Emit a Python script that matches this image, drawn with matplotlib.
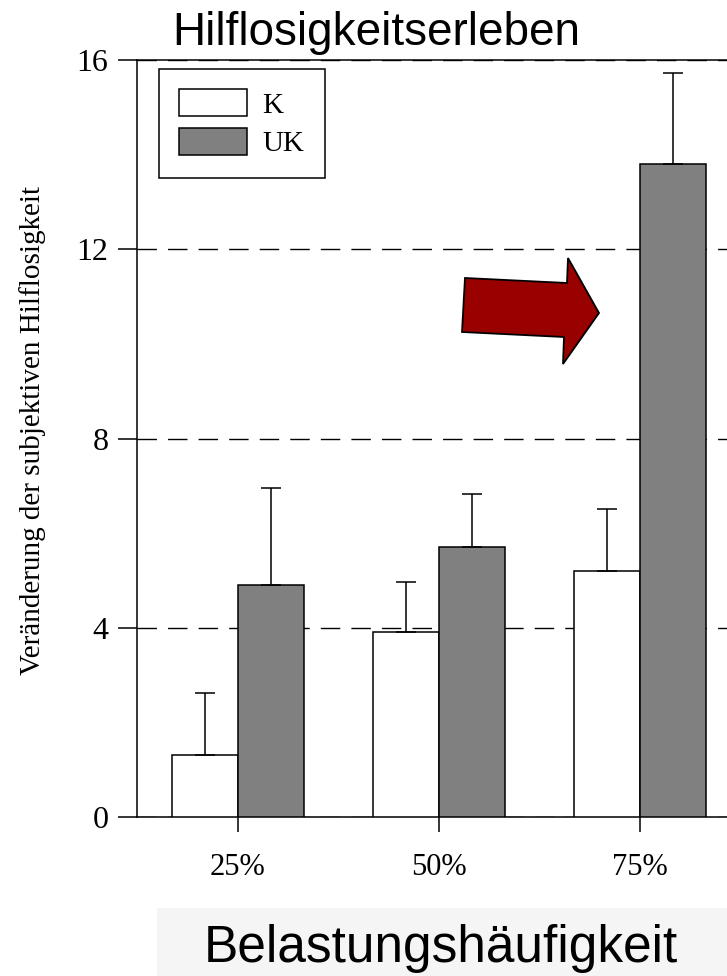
import numpy as np
import matplotlib
matplotlib.use("Agg")
import matplotlib.pyplot as plt
from matplotlib.patches import Patch, Polygon, Rectangle

# data
categories = ["25%", "50%", "75%"]
k_vals = [1.31, 3.92, 5.21]
k_err = [1.32, 1.05, 1.29]
uk_vals = [4.90, 5.70, 13.80]
uk_err = [2.06, 1.13, 1.93]
y_ticks = [0, 4, 8, 12, 16]

W, H = 727, 976
fig = plt.figure(figsize=(W / 100, H / 100), dpi=100)
ax = fig.add_axes([137 / W, 1 - 817 / H, 590 / W, 757 / H])

x = np.arange(len(categories))
bw = 0.33
serif = "Liberation Serif"

ax.bar(x - bw / 2, k_vals, bw, color="white", edgecolor="black", linewidth=1.1, zorder=3)
ax.bar(x + bw / 2, uk_vals, bw, color="#808080", edgecolor="black", linewidth=1.1, zorder=3)
zeros = np.zeros(len(categories))
ax.errorbar(x - bw / 2, k_vals, yerr=[zeros, k_err], fmt="none", ecolor="black",
            elinewidth=1.1, capsize=7.2, capthick=1.1, zorder=4)
ax.errorbar(x + bw / 2, uk_vals, yerr=[zeros, uk_err], fmt="none", ecolor="black",
            elinewidth=1.1, capsize=7.2, capthick=1.1, zorder=4)

ax.set_xlim(-0.5025, 2.433)
ax.set_ylim(0, 16)
ax.set_yticks(y_ticks)
ax.set_xticks(x)
ax.set_xticklabels(categories)
for lab in ax.get_xticklabels() + ax.get_yticklabels():
    lab.set_fontfamily(serif)
ax.tick_params(axis="y", direction="out", length=13.7, width=1.1, pad=7, labelsize=23)
ax.tick_params(axis="x", direction="out", length=11, width=1.1, pad=15, labelsize=22)

ax.set_axisbelow(True)
ax.yaxis.grid(True, color="black", linewidth=1.0, linestyle=(0, (14, 8)))

for side in ["left", "bottom", "top"]:
    ax.spines[side].set_linewidth(1.1)
ax.spines["right"].set_visible(False)

handles = [Patch(facecolor="white", edgecolor="black", linewidth=1.1),
           Patch(facecolor="#808080", edgecolor="black", linewidth=1.1)]
leg = ax.legend(handles, ["K", "UK"], loc="upper left",
                bbox_to_anchor=((159 - 137) / 590, (817 - 69) / 757),
                borderaxespad=0, fancybox=False, edgecolor="black", framealpha=1,
                prop={"family": serif, "size": 21}, handlelength=2.3, handleheight=1.05,
                labelspacing=0.3, handletextpad=0.55, borderpad=0.7)
leg.get_frame().set_linewidth(1.1)

fig.text(33 / W, 1 - 430 / H, "Veränderung der subjektiven Hilflosigkeit",
         rotation=90, ha="center", va="center", family=serif, fontsize=21)

fig.text(376 / W, 1 - 45 / H, "Hilflosigkeitserleben", ha="center", va="baseline",
         family="Liberation Sans", fontsize=33)

fig.patches.append(Rectangle((157 / W, 0), 1 - 157 / W, 68 / H, transform=fig.transFigure,
                             facecolor="#f5f5f5", edgecolor="none", zorder=0))
fig.text(441 / W, 1 - 962 / H, "Belastungshäufigkeit", ha="center", va="baseline",
         family="Liberation Sans", fontsize=37)

# red arrow pointing at the 75% UK bar
arrow_px = [(465, 278), (567, 283), (568, 258), (599, 313), (563, 364), (564, 337), (462, 332)]
fig.patches.append(Polygon([(px / W, 1 - py / H) for px, py in arrow_px], closed=True,
                           transform=fig.transFigure, facecolor="#990000",
                           edgecolor="black", linewidth=1.3, zorder=5))

fig.savefig("out.png", dpi=100)
